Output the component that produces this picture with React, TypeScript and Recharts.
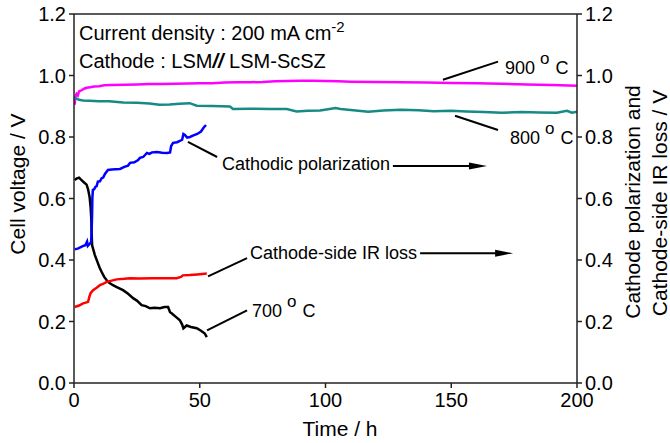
import React from "react";
import { LineChart, Line, XAxis, YAxis, ReferenceLine } from "recharts";

// time (h) vs voltage (V)
const cell900 = [
  { t: 0.3, v: 0.905 }, { t: 0.5, v: 0.93 }, { t: 1, v: 0.94 }, { t: 1.5, v: 0.935 },
  { t: 2, v: 0.948 }, { t: 3, v: 0.952 }, { t: 4, v: 0.957 }, { t: 5, v: 0.96 },
  { t: 6.5, v: 0.962 }, { t: 8, v: 0.964 }, { t: 10, v: 0.965 }, { t: 12, v: 0.968 },
  { t: 15, v: 0.969 }, { t: 20, v: 0.97 }, { t: 25, v: 0.971 }, { t: 30, v: 0.972 },
  { t: 35, v: 0.972 }, { t: 40, v: 0.973 }, { t: 45, v: 0.974 }, { t: 50, v: 0.975 },
  { t: 55, v: 0.975 }, { t: 60, v: 0.977 }, { t: 65, v: 0.978 }, { t: 70, v: 0.978 },
  { t: 75, v: 0.979 }, { t: 80, v: 0.981 }, { t: 85, v: 0.982 }, { t: 90, v: 0.983 },
  { t: 95, v: 0.983 }, { t: 100, v: 0.982 }, { t: 105, v: 0.981 }, { t: 110, v: 0.98 },
  { t: 120, v: 0.979 }, { t: 130, v: 0.978 }, { t: 140, v: 0.977 }, { t: 150, v: 0.976 },
  { t: 160, v: 0.975 }, { t: 170, v: 0.973 }, { t: 180, v: 0.971 }, { t: 190, v: 0.969 },
  { t: 200, v: 0.967 },
];

const cell800 = [
  { t: 0.3, v: 0.927 }, { t: 1, v: 0.925 }, { t: 2, v: 0.921 }, { t: 3.6, v: 0.919 },
  { t: 6, v: 0.918 }, { t: 10, v: 0.916 }, { t: 14, v: 0.916 }, { t: 19.5, v: 0.912 },
  { t: 25, v: 0.911 }, { t: 30, v: 0.909 }, { t: 34, v: 0.905 }, { t: 38, v: 0.906 },
  { t: 42, v: 0.908 }, { t: 46, v: 0.91 }, { t: 48.8, v: 0.902 }, { t: 55, v: 0.901 },
  { t: 62, v: 0.899 }, { t: 63.2, v: 0.891 }, { t: 70, v: 0.892 }, { t: 78, v: 0.891 },
  { t: 84.6, v: 0.891 }, { t: 88.5, v: 0.883 }, { t: 93, v: 0.885 }, { t: 97.8, v: 0.886 },
  { t: 101, v: 0.89 }, { t: 104, v: 0.894 }, { t: 106, v: 0.891 }, { t: 110, v: 0.888 },
  { t: 117, v: 0.882 }, { t: 123, v: 0.886 }, { t: 130, v: 0.889 }, { t: 137, v: 0.887 },
  { t: 143, v: 0.884 }, { t: 150, v: 0.885 }, { t: 156, v: 0.883 }, { t: 163, v: 0.881 },
  { t: 170, v: 0.879 }, { t: 178, v: 0.881 }, { t: 185, v: 0.88 }, { t: 192, v: 0.879 },
  { t: 196, v: 0.885 }, { t: 198, v: 0.879 }, { t: 200, v: 0.882 },
];

const cell700 = [
  { t: 0.3, v: 0.66 }, { t: 1, v: 0.665 }, { t: 2, v: 0.668 }, { t: 3, v: 0.66 },
  { t: 4, v: 0.652 }, { t: 5, v: 0.645 }, { t: 5.6, v: 0.63 }, { t: 6.2, v: 0.605 },
  { t: 6.6, v: 0.572 }, { t: 6.9, v: 0.53 }, { t: 7.0, v: 0.49 }, { t: 7.2, v: 0.448 },
  { t: 8.3, v: 0.416 }, { t: 9.5, v: 0.39 }, { t: 10.2, v: 0.375 }, { t: 11, v: 0.361 },
  { t: 12, v: 0.345 }, { t: 13, v: 0.334 }, { t: 14, v: 0.326 }, { t: 15.5, v: 0.318 },
  { t: 17, v: 0.312 }, { t: 19.5, v: 0.302 }, { t: 21.5, v: 0.29 }, { t: 23.5, v: 0.276 },
  { t: 25, v: 0.268 }, { t: 26.9, v: 0.253 }, { t: 28.5, v: 0.25 }, { t: 30.2, v: 0.243 },
  { t: 32, v: 0.245 }, { t: 34.2, v: 0.243 }, { t: 36, v: 0.247 }, { t: 37.4, v: 0.247 },
  { t: 38.2, v: 0.23 }, { t: 38.8, v: 0.227 }, { t: 40.5, v: 0.215 }, { t: 42.1, v: 0.204 },
  { t: 43, v: 0.19 }, { t: 43.5, v: 0.178 }, { t: 44.8, v: 0.187 }, { t: 46.5, v: 0.182 },
  { t: 48.8, v: 0.178 }, { t: 50.5, v: 0.17 }, { t: 52, v: 0.161 }, { t: 52.8, v: 0.149 },
];

const polarization = [
  { t: 0.3, v: 0.435 }, { t: 1.5, v: 0.437 }, { t: 2.5, v: 0.441 }, { t: 3.5, v: 0.445 },
  { t: 4.5, v: 0.448 }, { t: 5.2, v: 0.46 }, { t: 5.5, v: 0.446 }, { t: 6.2, v: 0.452 },
  { t: 6.8, v: 0.458 }, { t: 7.0, v: 0.49 }, { t: 7.2, v: 0.55 }, { t: 7.3, v: 0.6 },
  { t: 7.5, v: 0.628 }, { t: 8.0, v: 0.63 }, { t: 8.5, v: 0.638 }, { t: 9.0, v: 0.64 },
  { t: 9.5, v: 0.655 }, { t: 10.3, v: 0.656 }, { t: 11, v: 0.666 }, { t: 11.6, v: 0.668 },
  { t: 12.3, v: 0.68 }, { t: 13.5, v: 0.693 }, { t: 15, v: 0.694 }, { t: 16.5, v: 0.695 },
  { t: 18.3, v: 0.696 }, { t: 20, v: 0.703 }, { t: 21.5, v: 0.707 }, { t: 22.3, v: 0.716 },
  { t: 24, v: 0.718 }, { t: 25.5, v: 0.725 }, { t: 26.2, v: 0.732 }, { t: 27.5, v: 0.735 },
  { t: 29, v: 0.748 }, { t: 30, v: 0.745 }, { t: 31, v: 0.75 }, { t: 33, v: 0.751 },
  { t: 35, v: 0.749 }, { t: 37, v: 0.748 }, { t: 38.2, v: 0.75 }, { t: 38.6, v: 0.77 },
  { t: 39.4, v: 0.781 }, { t: 41, v: 0.783 }, { t: 43, v: 0.791 }, { t: 43.5, v: 0.81 },
  { t: 44.1, v: 0.807 }, { t: 45, v: 0.798 }, { t: 46.1, v: 0.8 }, { t: 47.5, v: 0.805 },
  { t: 49, v: 0.81 }, { t: 50.5, v: 0.818 }, { t: 51.5, v: 0.83 }, { t: 52.5, v: 0.839 },
];

const irLoss = [
  { t: 0.3, v: 0.247 }, { t: 2, v: 0.252 }, { t: 3.6, v: 0.259 }, { t: 5, v: 0.262 },
  { t: 5.6, v: 0.264 }, { t: 6.1, v: 0.28 }, { t: 6.6, v: 0.292 }, { t: 7.6, v: 0.302 },
  { t: 9, v: 0.31 }, { t: 10.3, v: 0.318 }, { t: 11.5, v: 0.322 }, { t: 13, v: 0.329 },
  { t: 15, v: 0.333 }, { t: 17, v: 0.337 }, { t: 20, v: 0.339 }, { t: 22.3, v: 0.341 },
  { t: 26, v: 0.34 }, { t: 31.4, v: 0.341 }, { t: 36, v: 0.341 }, { t: 40.8, v: 0.341 },
  { t: 42.5, v: 0.345 }, { t: 43.3, v: 0.35 }, { t: 46, v: 0.351 }, { t: 49, v: 0.353 },
  { t: 52.8, v: 0.356 },
];

const timeTicks = [0, 50, 100, 150, 200];
const voltTicks = [0, 0.2, 0.4, 0.6, 0.8, 1.0, 1.2];

// leader lines and arrows for the annotations, in data units
const leaders = [
  [{ x: 146.7, y: 0.986 }, { x: 168.6, y: 1.045 }],
  [{ x: 151.5, y: 0.869 }, { x: 168.6, y: 0.823 }],
  [{ x: 45.3, y: 0.784 }, { x: 56.9, y: 0.735 }],
  [{ x: 53.3, y: 0.347 }, { x: 68.8, y: 0.406 }],
  [{ x: 52.9, y: 0.171 }, { x: 68.8, y: 0.236 }],
];
const arrows = [
  [{ x: 126.8, y: 0.706 }, { x: 164.2, y: 0.706 }],
  [{ x: 137.6, y: 0.422 }, { x: 174.6, y: 0.422 }],
];

const font = "'Liberation Sans', Arial, Helvetica, sans-serif";
const tickStyle = { fill: "#000", fontSize: 20, fontFamily: font };

const arrowShape = (p: any) => (
  <g>
    <line x1={p.x1} y1={p.y1} x2={p.x2 - 10} y2={p.y2} stroke="#000" strokeWidth={2} />
    <polygon
      points={`${p.x2},${p.y2} ${p.x2 - 18},${p.y2 - 3.5} ${p.x2 - 18},${p.y2 + 3.5}`}
      fill="#000"
    />
  </g>
);

function Deg({ x, y, value }: { x: number; y: number; value: string }) {
  return (
    <text x={x} y={y} fontSize={18} fontFamily={font}>
      {value}
      <tspan dx={5} dy={-10} fontSize={17}>o</tspan>
      <tspan dx={6} dy={10}>C</tspan>
    </text>
  );
}

export default function App() {
  return (
    <div style={{ position: "absolute", left: 0, top: 0, width: 670, height: 443, background: "#fff" }}>
      <LineChart width={670} height={443} margin={{ top: 14, right: 0, bottom: 0, left: 0 }}>
        <XAxis
          dataKey="t"
          type="number"
          domain={[0, 200]}
          ticks={timeTicks}
          tick={tickStyle}
          tickSize={5}
          tickMargin={5}
          height={60}
          stroke="#222"
          strokeWidth={1.5}
          allowDataOverflow
        />
        <YAxis
          yAxisId="left"
          domain={[0, 1.2]}
          ticks={voltTicks}
          tickFormatter={(v: number) => v.toFixed(1)}
          tick={tickStyle}
          tickSize={5}
          tickMargin={3}
          width={74}
          stroke="#222"
          strokeWidth={1.5}
        />
        <YAxis
          yAxisId="right"
          orientation="right"
          domain={[0, 1.2]}
          ticks={voltTicks}
          tickFormatter={(v: number) => v.toFixed(1)}
          tick={tickStyle}
          tickSize={5}
          tickMargin={3}
          width={93}
          stroke="#222"
          strokeWidth={1.5}
        />
        <ReferenceLine yAxisId="left" y={1.2} stroke="#222" strokeWidth={1.5} />

        <Line yAxisId="left" data={cell900} dataKey="v" stroke="#ff00ff" strokeWidth={2.5} dot={false} isAnimationActive={false} />
        <Line yAxisId="left" data={cell800} dataKey="v" stroke="#168a84" strokeWidth={2.5} dot={false} isAnimationActive={false} />
        <Line yAxisId="left" data={cell700} dataKey="v" stroke="#000" strokeWidth={2.5} dot={false} isAnimationActive={false} />
        <Line yAxisId="right" data={irLoss} dataKey="v" stroke="#ff0000" strokeWidth={2.5} dot={false} isAnimationActive={false} />
        <Line yAxisId="right" data={polarization} dataKey="v" stroke="#0000ff" strokeWidth={2.5} dot={false} isAnimationActive={false} />

        {leaders.map((seg, i) => (
          <ReferenceLine key={`l${i}`} yAxisId="left" segment={seg} stroke="#000" strokeWidth={2} />
        ))}
        {arrows.map((seg, i) => (
          <ReferenceLine key={`a${i}`} yAxisId="left" segment={seg} shape={arrowShape} />
        ))}
      </LineChart>

      <svg width={670} height={443} style={{ position: "absolute", left: 0, top: 0, pointerEvents: "none" }}>
        <text x={79} y={40} fontSize={20} fontFamily={font}>
          Current density : 200 mA cm
          <tspan dy={-8} fontSize={15}>-2</tspan>
        </text>
        <text x={79} y={68} fontSize={20} fontFamily={font}>
          Cathode : LSM
          <tspan fontStyle="italic" fontWeight="bold">//</tspan> LSM-ScSZ
        </text>

        <Deg x={505} y={74} value="900" />
        <Deg x={510} y={144} value="800" />
        <Deg x={252} y={317} value="700" />

        <text x={222} y={170} fontSize={18} fontFamily={font}>Cathodic polarization</text>
        <text x={250} y={259} fontSize={18} fontFamily={font}>Cathode-side IR loss</text>

        <text x={340} y={436} fontSize={21} fontFamily={font} textAnchor="middle">Time / h</text>
        <text transform="translate(25,184) rotate(-90)" fontSize={21} fontFamily={font} textAnchor="middle">
          Cell voltage / V
        </text>
        <text transform="translate(640,202) rotate(-90)" fontSize={21} fontFamily={font} textAnchor="middle">
          Cathode polarization and
        </text>
        <text transform="translate(667,203) rotate(-90)" fontSize={21} fontFamily={font} textAnchor="middle">
          Cathode-side IR loss / V
        </text>
      </svg>
    </div>
  );
}
